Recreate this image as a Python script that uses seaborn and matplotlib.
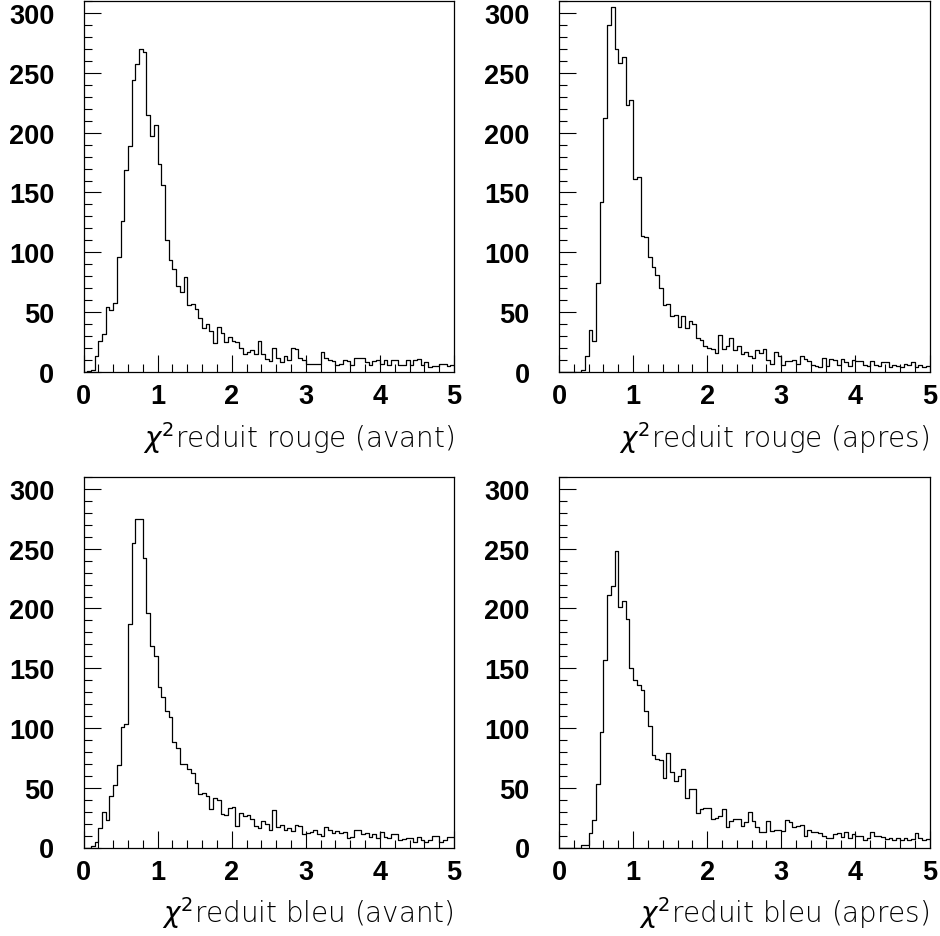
import numpy as np
import pandas as pd
import matplotlib
matplotlib.use("Agg")
import matplotlib.pyplot as plt
import seaborn as sns
from matplotlib.ticker import MultipleLocator

# ---------------- data (counts per bin, 100 bins on [0, 5]) ----------------
x_min, x_max, n_bins = 0.0, 5.0, 100

rouge_avant = [0, 1, 2, 13, 26, 32, 54, 52, 58, 96,
               126, 169, 189, 244, 257, 270, 267, 215, 197, 206,
               174, 156, 110, 94, 86, 72, 67, 79, 56, 57,
               53, 45, 37, 40, 34, 24, 38, 33, 25, 29,
               26, 25, 20, 15, 17, 18, 15, 26, 15, 11,
               9, 20, 12, 8, 13, 10, 20, 19, 12, 10,
               7, 7, 7, 7, 17, 12, 10, 9, 6, 7,
               10, 9, 6, 12, 12, 12, 8, 6, 9, 10,
               7, 10, 6, 10, 10, 6, 6, 10, 6, 10,
               11, 6, 8, 4, 5, 5, 7, 7, 5, 6]

rouge_apres = [0, 0, 0, 0, 0, 0, 2, 13, 35, 26,
               74, 142, 212, 290, 305, 270, 258, 263, 223, 227,
               161, 163, 114, 113, 96, 88, 81, 70, 56, 57,
               47, 48, 38, 47, 37, 43, 40, 28, 27, 22,
               20, 19, 16, 31, 19, 22, 28, 18, 22, 15,
               17, 13, 12, 18, 16, 19, 10, 7, 17, 13,
               6, 9, 9, 10, 7, 13, 11, 9, 6, 5,
               4, 12, 5, 11, 10, 6, 11, 8, 5, 10,
               9, 9, 6, 5, 9, 6, 5, 8, 8, 4,
               6, 5, 4, 7, 6, 8, 4, 6, 4, 5]

bleu_avant = [0, 0, 1, 5, 16, 30, 23, 43, 52, 69,
              101, 103, 187, 255, 275, 275, 242, 196, 169, 160,
              134, 126, 114, 109, 88, 83, 70, 70, 66, 62,
              54, 45, 46, 43, 32, 41, 40, 28, 27, 33,
              34, 18, 29, 26, 27, 24, 18, 16, 22, 20,
              15, 31, 17, 19, 15, 16, 14, 19, 18, 11,
              12, 13, 15, 11, 10, 17, 15, 12, 14, 12,
              13, 8, 9, 15, 15, 11, 12, 9, 11, 8,
              13, 9, 8, 11, 11, 6, 7, 8, 8, 5,
              9, 6, 5, 6, 10, 10, 5, 6, 9, 9]

bleu_apres = [0, 0, 0, 0, 0, 0, 2, 2, 12, 23,
              53, 97, 157, 211, 219, 248, 201, 206, 191, 150,
              140, 136, 132, 114, 102, 77, 74, 73, 58, 79,
              63, 56, 60, 66, 41, 49, 49, 29, 32, 33,
              33, 24, 25, 26, 32, 17, 22, 24, 24, 18,
              21, 30, 22, 17, 13, 13, 22, 14, 15, 15,
              14, 23, 21, 17, 18, 19, 10, 15, 13, 13,
              12, 10, 8, 8, 11, 12, 9, 13, 8, 11,
              10, 10, 6, 8, 13, 10, 10, 9, 7, 8,
              6, 8, 6, 8, 6, 7, 12, 8, 6, 7]

labels = [r"$\chi^{2}$reduit rouge (avant)",
          r"$\chi^{2}$reduit rouge (apres)",
          r"$\chi^{2}$reduit bleu (avant)",
          r"$\chi^{2}$reduit bleu (apres)"]
series = [rouge_avant, rouge_apres, bleu_avant, bleu_apres]

x_ticks = [0, 1, 2, 3, 4, 5]
y_ticks = [0, 50, 100, 150, 200, 250, 300]
y_max = 310

# ---------------- figure ----------------
W, H = 940, 937
fig = plt.figure(figsize=(W / 100, H / 100), dpi=100)

# axes rectangles in pixel coords (left, top, right, bottom)
rects = [(83.5, 2, 454, 373),
         (559, 2, 929.5, 373),
         (83.5, 478, 454, 848.5),
         (559, 478, 929.5, 848.5)]

edges = np.linspace(x_min, x_max, n_bins + 1)
centers = (edges[:-1] + edges[1:]) / 2

for (l, t, r, b), vals, lab in zip(rects, series, labels):
    ax = fig.add_axes([l / W, 1 - b / H, (r - l) / W, (b - t) / H])
    df = pd.DataFrame({"x": centers, "w": np.asarray(vals, dtype=float)})
    sns.histplot(data=df, x="x", weights="w", bins=n_bins,
                 binrange=(x_min, x_max), element="step",
                 fill=False, color="black", linewidth=0.9, ax=ax)
    ax.set_xlim(x_min, x_max)
    ax.set_ylim(0, y_max)
    ax.set_ylabel("")
    ax.set_xticks(x_ticks)
    ax.set_yticks(y_ticks)
    ax.xaxis.set_minor_locator(MultipleLocator(0.2))
    ax.yaxis.set_minor_locator(MultipleLocator(10))
    ax.tick_params(which="both", direction="in", width=0.8, color="black",
                   top=False, right=False)
    ax.tick_params(which="major", length=12)
    ax.tick_params(which="minor", length=6)
    ax.tick_params(axis="y", which="major", pad=21)
    ax.tick_params(axis="x", which="major", pad=8)
    for lbl in ax.get_xticklabels() + ax.get_yticklabels():
        lbl.set_fontfamily(["Liberation Sans", "DejaVu Sans"])
        lbl.set_fontweight("bold")
        lbl.set_fontsize(19.5)
    for sp in ax.spines.values():
        sp.set_linewidth(0.9)
        sp.set_color("black")
    ax.set_xlabel(lab, loc="right", fontsize=20, fontweight="light",
                  fontfamily=["DejaVu Sans"], labelpad=7)

fig.savefig("out.png", dpi=100)
